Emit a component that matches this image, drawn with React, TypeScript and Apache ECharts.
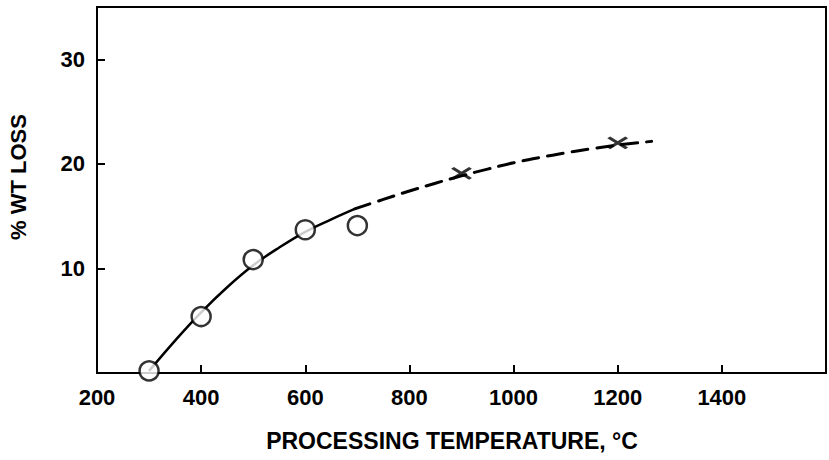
import React, { useEffect, useRef } from "react";
import * as echarts from "echarts";

// Measured points (circles)
const circleTemps = [300, 400, 500, 600, 700];
const circleLoss = [0.2, 5.4, 10.85, 13.7, 14.1];

// Measured points (crosses)
const crossTemps = [900, 1200];
const crossLoss = [19.1, 22.0];

// Fitted curve, solid part
const solidTemps = [300, 350, 400, 450, 500, 550, 600, 650, 695];
const solidLoss = [0.2, 3.1, 5.8, 8.2, 10.3, 12.0, 13.5, 14.7, 15.7];

// Fitted curve, dashed extrapolation
const dashTemps = [695, 750, 800, 850, 900, 950, 1000, 1050, 1100, 1150, 1200, 1265];
const dashLoss = [15.7, 16.6, 17.4, 18.15, 18.85, 19.5, 20.1, 20.6, 21.05, 21.45, 21.8, 22.15];

const xTitle = "PROCESSING TEMPERATURE, °C";
const yTitle = "% WT LOSS";

const zip = (a: number[], b: number[]) => a.map((v, i) => [v, b[i]]);

const FONT = "Liberation Sans, Arial, Helvetica, sans-serif";

export default function App() {
  const ref = useRef<HTMLDivElement>(null);
  useEffect(() => {
    if (!ref.current) return;
    const chart = echarts.init(ref.current, undefined, { renderer: "svg" });
    chart.setOption({
      animation: false,
      backgroundColor: "#ffffff",
      grid: {
        left: 97,
        top: 7,
        width: 735,
        bottom: 87,
        show: true,
        borderColor: "#000",
        borderWidth: 2,
        containLabel: false,
      },
      xAxis: {
        type: "value",
        min: 200,
        max: 1600,
        interval: 200,
        axisLine: { show: true, lineStyle: { color: "#000", width: 2 } },
        axisTick: { show: true, inside: true, length: 8, lineStyle: { color: "#000", width: 2 } },
        splitLine: { show: false },
        axisLabel: {
          margin: 13,
          color: "#000",
          fontFamily: FONT,
          fontSize: 22,
          fontWeight: "bold",
          formatter: (v: number) => (v > 1400 ? "" : String(v)),
        },
      },
      yAxis: {
        type: "value",
        min: 0,
        max: 35,
        interval: 10,
        axisLine: { show: true, lineStyle: { color: "#000", width: 2 } },
        axisTick: { show: true, inside: true, length: 8, lineStyle: { color: "#000", width: 2 } },
        splitLine: { show: false },
        axisLabel: {
          margin: 12,
          color: "#000",
          fontFamily: FONT,
          fontSize: 22,
          fontWeight: "bold",
          formatter: (v: number) => (v > 0 && v % 10 === 0 ? String(v) : ""),
        },
      },
      graphic: [
        {
          type: "text",
          x: 452,
          y: 441,
          style: {
            text: xTitle,
            fill: "#000",
            font: `bold 23px ${FONT}`,
            textAlign: "center",
            textVerticalAlign: "middle",
          },
        },
        {
          type: "text",
          x: 18,
          y: 177,
          rotation: Math.PI / 2,
          style: {
            text: yTitle,
            fill: "#000",
            font: `bold 22px ${FONT}`,
            textAlign: "center",
            textVerticalAlign: "middle",
          },
        },
      ],
      series: [
        {
          type: "line",
          data: zip(solidTemps, solidLoss),
          smooth: 0.4,
          symbol: "none",
          lineStyle: { color: "#000", width: 2.5 },
          z: 2,
        },
        {
          type: "line",
          data: zip(dashTemps, dashLoss),
          smooth: 0.4,
          symbol: "none",
          lineStyle: { color: "#000", width: 3, type: [16, 9], cap: "round" },
          z: 2,
        },
        {
          type: "scatter",
          data: zip(circleTemps, circleLoss),
          symbol: "circle",
          symbolSize: 19,
          itemStyle: { color: "#fff", borderColor: "#000", borderWidth: 2.5 },
          z: 3,
        },
        {
          type: "scatter",
          data: zip(crossTemps, crossLoss),
          symbol: "path://M0,0L10,10M10,0L0,10",
          symbolSize: [18, 11],
          symbolKeepAspect: false,
          itemStyle: { color: "none", borderColor: "#000", borderWidth: 3.2 },
          z: 3,
        },
      ],
    });
    return () => chart.dispose();
  }, []);
  return (
    <div
      ref={ref}
      style={{ position: "absolute", left: 0, top: 0, width: 829, height: 460 }}
    />
  );
}
